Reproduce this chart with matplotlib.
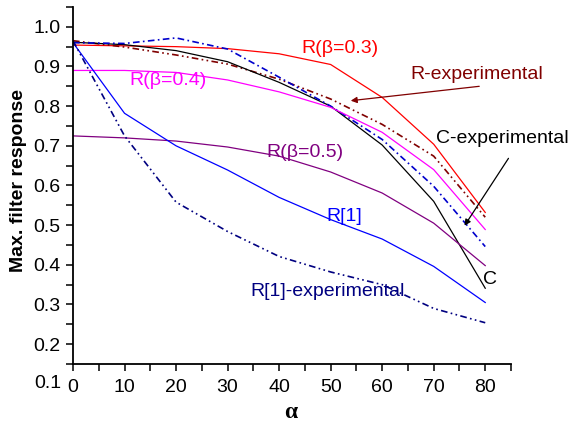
import matplotlib
matplotlib.use('Agg')
from matplotlib import pyplot as plt
from matplotlib.ticker import MultipleLocator

alpha = [0, 10, 20, 30, 40, 50, 60, 70, 80]

r_b03 = [0.954, 0.952, 0.950, 0.945, 0.932, 0.905, 0.822, 0.704, 0.532]
r_exp = [0.965, 0.949, 0.929, 0.906, 0.868, 0.818, 0.754, 0.674, 0.520]
c_th = [0.961, 0.955, 0.940, 0.912, 0.860, 0.800, 0.702, 0.560, 0.341]
c_exp = [0.960, 0.958, 0.972, 0.944, 0.873, 0.800, 0.716, 0.598, 0.446]
r_b04 = [0.890, 0.890, 0.885, 0.866, 0.836, 0.797, 0.734, 0.640, 0.489]
r_b05 = [0.725, 0.720, 0.712, 0.697, 0.674, 0.634, 0.581, 0.505, 0.398]
r1 = [0.960, 0.782, 0.700, 0.639, 0.570, 0.514, 0.465, 0.396, 0.305]
r1_exp = [0.965, 0.725, 0.558, 0.484, 0.421, 0.382, 0.350, 0.290, 0.254]

y_ticks = [0.2, 0.3, 0.4, 0.5, 0.6, 0.7, 0.8, 0.9, 1.0]

plt.rcParams['font.family'] = ['Liberation Sans', 'DejaVu Sans']

def main():
    fig = plt.figure(figsize=(5.73, 4.23), dpi=100)
    ax = fig.add_axes([0.1274, 0.1395, 0.7644, 0.844])

    lw = 0.9
    dd = (0, (4, 2, 1, 2, 1, 2))
    ax.plot(alpha, r_b03, color='#ff0000', lw=lw)
    ax.plot(alpha, r_exp, color='#800000', lw=lw + 0.3, ls=dd)
    ax.plot(alpha, c_th, color='black', lw=lw)
    ax.plot(alpha, c_exp, color='#0000cc', lw=lw + 0.3, ls=(0, (4, 2, 1, 2)))
    ax.plot(alpha, r_b04, color='#ff00ff', lw=lw)
    ax.plot(alpha, r_b05, color='#800080', lw=lw)
    ax.plot(alpha, r1, color='#0000ff', lw=lw)
    ax.plot(alpha, r1_exp, color='#000080', lw=lw + 0.3, ls=dd)

    ax.set_xlim(0, 85)
    ax.set_ylim(0.15, 1.05)
    ax.set_yticks(y_ticks)
    ax.xaxis.set_major_locator(MultipleLocator(10))
    ax.xaxis.set_minor_locator(MultipleLocator(5))
    ax.yaxis.set_minor_locator(MultipleLocator(0.05))
    ax.tick_params(which='both', direction='out', length=5, width=1.1, labelsize=14)
    ax.tick_params(axis='y', pad=4)
    ax.tick_params(axis='x', pad=6)
    for s in ['top', 'right']:
        ax.spines[s].set_visible(False)
    for s in ['left', 'bottom']:
        ax.spines[s].set_linewidth(1.3)

    ax.text(-0.026, 0.1, '0.1', transform=ax.get_yaxis_transform(), ha='right',
            va='center', fontsize=14, clip_on=False)

    fig.text(291 / 573, 1 - 412 / 423, 'α', fontsize=17, fontweight='bold',
             family='Liberation Serif', ha='center', va='center')
    fig.text(19 / 573, 1 - 180 / 423, 'Max. filter response', fontsize=14,
             fontweight='bold', rotation=90, ha='center', va='center')

    # curve labels
    tx = ax.transData.inverted()
    def at(px, py):
        return tx.transform((px, 423 - py))

    def lab(s, px, py, c):
        x, y = at(px, py)
        ax.text(x, y, s, color=c, fontsize=14, ha='center', va='center')

    lab('R(β=0.3)', 340, 48, '#ff0000')
    lab('R-experimental', 477, 74, '#800000')
    lab('C-experimental', 502, 138, 'black')
    lab('C', 490, 279, 'black')
    lab('R(β=0.4)', 168, 80, '#ff00ff')
    lab('R(β=0.5)', 305, 152, '#800080')
    lab('R[1]', 344, 216, '#0000ff')
    lab('R[1]-experimental', 328, 291, '#000080')

    ax.annotate('', xy=at(348, 101), xytext=at(482, 86),
                arrowprops=dict(arrowstyle='-|>', color='#800000', lw=0.9,
                                mutation_scale=9))
    ax.annotate('', xy=at(463, 228), xytext=at(510, 156),
                arrowprops=dict(arrowstyle='-|>', color='black', lw=0.9,
                                mutation_scale=9))

    fig.savefig('out.png', dpi=100)


if __name__ == '__main__':
    main()
